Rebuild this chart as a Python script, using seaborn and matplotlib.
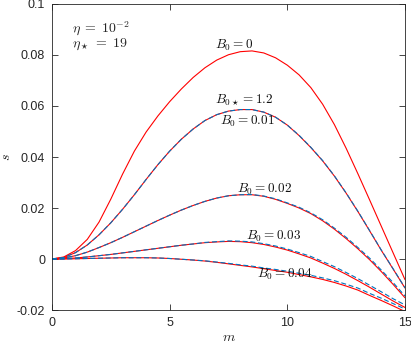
import numpy as np
import pandas as pd
import matplotlib
matplotlib.use("Agg")
import matplotlib.pyplot as plt
import seaborn as sns
from matplotlib.ticker import FuncFormatter

sns.set_theme(style="ticks")
plt.rcParams['font.family'] = ['Liberation Sans', 'DejaVu Sans']
plt.rcParams['mathtext.fontset'] = 'cm'

# sample positions along m
m = [0, 0.5, 1, 1.5, 2, 2.5, 3, 3.5, 4, 4.5, 5, 5.5, 6, 6.5, 7, 7.5,
     8, 8.5, 9, 9.5, 10, 10.5, 11, 11.5, 12, 12.5, 13, 13.5, 14, 14.5, 15]

# red solid curves (full solution)
s_b0_000 = [0, 0.0008, 0.0033, 0.0077, 0.0145, 0.0235, 0.0333, 0.0423, 0.0498, 0.0561,
            0.0617, 0.0667, 0.0712, 0.0750, 0.0780, 0.0801, 0.0813, 0.0816, 0.0808, 0.0789,
            0.0760, 0.0722, 0.0672, 0.0607, 0.0527, 0.0434, 0.0334, 0.0231, 0.0127, 0.0023, -0.0081]
s_b0_001 = [0, 0.0006, 0.0025, 0.0055, 0.0095, 0.0142, 0.0195, 0.0252, 0.0312, 0.0370,
            0.0423, 0.0470, 0.0510, 0.0543, 0.0566, 0.0580, 0.0586, 0.0586, 0.0576, 0.0556,
            0.0525, 0.0484, 0.0437, 0.0385, 0.0325, 0.0258, 0.0186, 0.0110, 0.0033, -0.0040, -0.0114]
s_b0_002 = [0, 0.0004, 0.0013, 0.0027, 0.0045, 0.0064, 0.0085, 0.0107, 0.0129, 0.0151,
            0.0172, 0.0192, 0.0210, 0.0226, 0.0239, 0.0248, 0.0252, 0.0252, 0.0246, 0.0234,
            0.0218, 0.0200, 0.0178, 0.0150, 0.0117, 0.0080, 0.0040, -0.0003, -0.0050, -0.0100, -0.0152]
s_b0_003 = [0, 0.0001, 0.0004, 0.0008, 0.0013, 0.0018, 0.0024, 0.0030, 0.0036, 0.0042,
            0.0048, 0.0054, 0.0059, 0.0064, 0.0067, 0.0069, 0.0068, 0.0064, 0.0057, 0.0047,
            0.0035, 0.0020, 0.0004, -0.0016, -0.0037, -0.0060, -0.0085, -0.0111, -0.0138, -0.0165, -0.0190]
s_b0_004 = [0, 0.0000, 0.0001, 0.0002, 0.0003, 0.0004, 0.0005, 0.0005, 0.0005, 0.0004,
            0.0002, -0.0001, -0.0004, -0.0008, -0.0013, -0.0019, -0.0025, -0.0031, -0.0038, -0.0045,
            -0.0052, -0.0061, -0.0070, -0.0080, -0.0092, -0.0106, -0.0122, -0.0143, -0.0163, -0.0184, -0.0206]

# blue dashed curves (approximation, B0* = 1.2)
a_b0_001 = [0, 0.0006, 0.0025, 0.0055, 0.0095, 0.0142, 0.0195, 0.0252, 0.0312, 0.0370,
            0.0423, 0.0470, 0.0510, 0.0543, 0.0566, 0.0580, 0.0586, 0.0586, 0.0576, 0.0556,
            0.0525, 0.0485, 0.0438, 0.0386, 0.0326, 0.0259, 0.0187, 0.0111, 0.0034, -0.0039, -0.0113]
a_b0_002 = [0, 0.0004, 0.0013, 0.0027, 0.0045, 0.0064, 0.0085, 0.0107, 0.0129, 0.0151,
            0.0172, 0.0192, 0.0210, 0.0226, 0.0239, 0.0248, 0.0252, 0.0253, 0.0247, 0.0236,
            0.0220, 0.0203, 0.0181, 0.0154, 0.0121, 0.0085, 0.0045, 0.0003, -0.0044, -0.0093, -0.0145]
a_b0_003 = [0, 0.0001, 0.0004, 0.0008, 0.0013, 0.0018, 0.0024, 0.0030, 0.0036, 0.0042,
            0.0048, 0.0054, 0.0059, 0.0065, 0.0068, 0.0071, 0.0070, 0.0067, 0.0060, 0.0051,
            0.0039, 0.0025, 0.0010, -0.0010, -0.0030, -0.0053, -0.0077, -0.0103, -0.0129, -0.0156, -0.0180]
a_b0_004 = [0, 0.0000, 0.0001, 0.0002, 0.0003, 0.0004, 0.0005, 0.0005, 0.0005, 0.0004,
            0.0002, -0.0001, -0.0004, -0.0007, -0.0012, -0.0017, -0.0023, -0.0028, -0.0035, -0.0041,
            -0.0048, -0.0056, -0.0064, -0.0074, -0.0085, -0.0099, -0.0114, -0.0135, -0.0154, -0.0175, -0.0196]

red_curves = [s_b0_000, s_b0_001, s_b0_002, s_b0_003, s_b0_004]
blue_curves = [a_b0_001, a_b0_002, a_b0_003, a_b0_004]

# curve labels: text, m, s
labels = [("$B_0 = 0$", 7.73, 0.0836),
          ("$B_{0\\star} = 1.2$", 8.16, 0.0625),
          ("$B_0 = 0.01$", 8.31, 0.0540),
          ("$B_0 = 0.02$", 9.05, 0.0272),
          ("$B_0 = 0.03$", 9.41, 0.0089),
          ("$B_0 = 0.04$", 9.88, -0.0059)]

fig = plt.figure(figsize=(4.11, 3.47), dpi=100)
ax = fig.add_axes([0.1265, 0.1066, 0.8589, 0.8819])

for vals in red_curves:
    sns.lineplot(x=m, y=vals, color='#ff0000', lw=0.8, ax=ax)
for vals in blue_curves:
    sns.lineplot(x=m, y=vals, color='#0072bd', lw=0.8, linestyle=(0, (4.5, 2.4)), ax=ax)

for txt, xx, yy in labels:
    ax.text(xx, yy, txt, ha='center', va='center', fontsize=9.5, color='#111111')

ax.text(0.85, 0.0907, "$\\eta\\;=\\;10^{-2}$", ha='left', va='center', fontsize=10)
ax.text(0.85, 0.0840, "$\\eta_\\star\\;=\\;19$", ha='left', va='center', fontsize=10)

ax.set_xlim(0, 15)
ax.set_ylim(-0.02, 0.1)
ax.set_xticks([0, 5, 10, 15])
ax.set_yticks([-0.02, 0, 0.02, 0.04, 0.06, 0.08, 0.1])
ax.yaxis.set_major_formatter(FuncFormatter(lambda v, p: f"{round(v, 4):g}"))
ax.tick_params(direction='in', top=True, right=True, length=4, width=0.6,
               labelsize=9, colors='#262626', pad=5)
for sp in ax.spines.values():
    sp.set_visible(True)
    sp.set_linewidth(0.6)
    sp.set_color('#262626')

ax.set_xlabel("$m$", fontsize=10, labelpad=1)
ax.set_ylabel("$s$", fontsize=10, labelpad=3)

fig.savefig("out.png", dpi=100)
